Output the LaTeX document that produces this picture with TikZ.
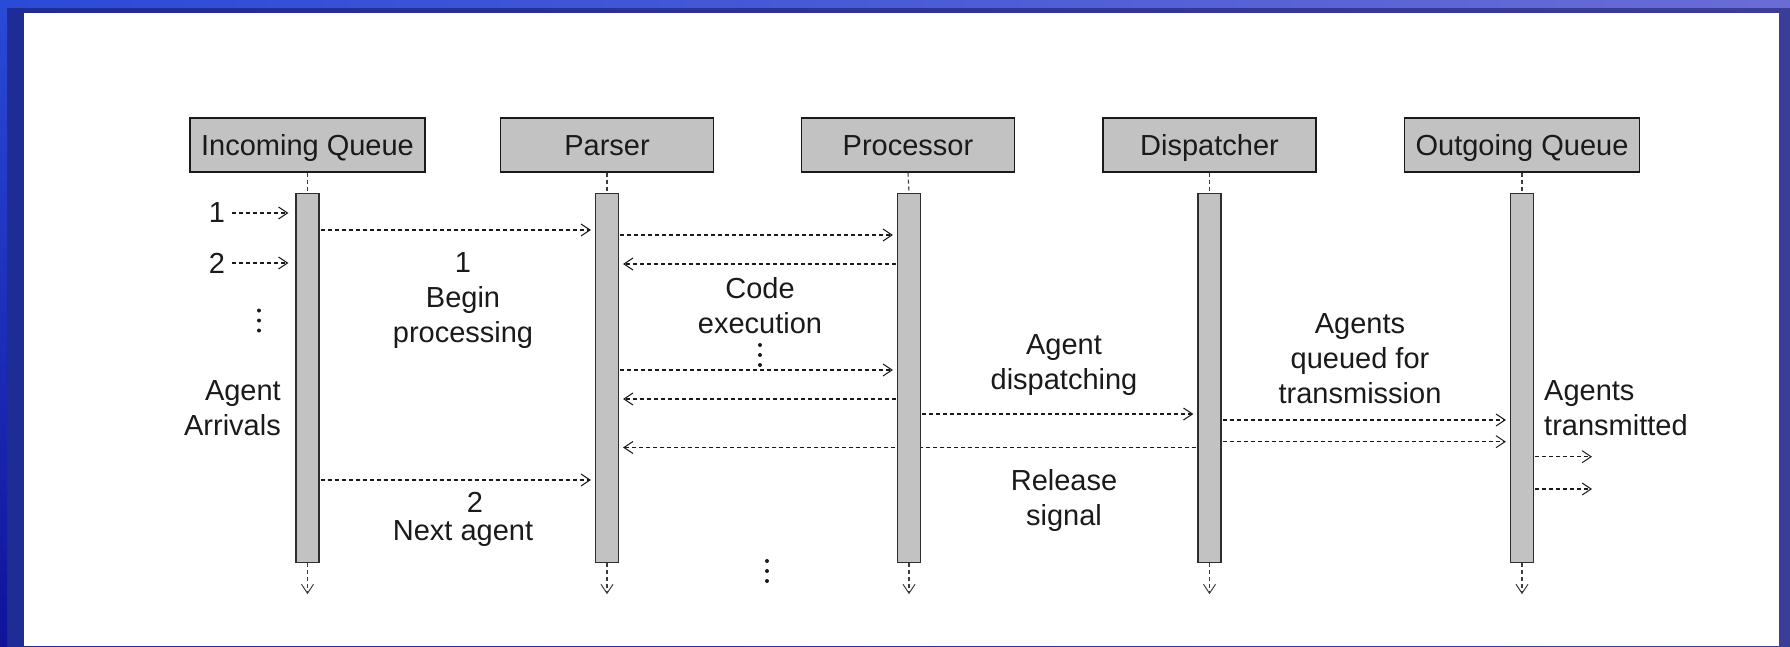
\documentclass[tikz,border=0pt]{standalone}
\usepackage{fontspec}
\setmainfont{Liberation Sans}
\usetikzlibrary{arrows.meta,calc}

\pgfdeclarelayer{frame}
\pgfdeclarelayer{behind}
\pgfsetlayers{frame,behind,main}

\definecolor{boxgray}{HTML}{C2C2C2}
\definecolor{ink}{HTML}{1A1A1A}
\definecolor{barline}{HTML}{2E2E2E}
\definecolor{edgeA}{HTML}{2A4AD8}
\definecolor{edgeB}{HTML}{7290E6}
\definecolor{edgeC}{HTML}{6A6CD6}
\definecolor{edgeD}{HTML}{10129A}
\definecolor{bandA}{HTML}{1E2C96}
\definecolor{bandB}{HTML}{3A3E98}

\newcommand\lblfont{\fontsize{29}{35}\selectfont}

\tikzset{
  head/.style={draw=ink, fill=boxgray, line width=1.4pt, minimum height=54pt,
    inner sep=0pt, font=\lblfont, text=ink, text height=21pt, text depth=0pt},
  bar/.style={draw=barline, fill=boxgray, line width=1.2pt, minimum width=23pt,
    minimum height=369pt, inner sep=0pt, anchor=north},
  msg/.style={draw=ink, line width=1.1pt, dash pattern=on 4pt off 3pt,
    -{Straight Barb[length=9pt,width=12pt,line width=1pt]},
    shorten <=1pt, shorten >=4pt},
  feed/.style={msg, shorten <=7pt, shorten >=7pt},
  life/.style={draw=ink!85, line width=1.1pt, dash pattern=on 4pt off 3pt},
  lifeend/.style={life, -{Straight Barb[length=9pt,width=12pt,line width=1pt]}},
  lbl/.style={font=\lblfont, text=ink, inner sep=0pt, align=center},
  threedots/.pic={
    \fill[ink] (0,-10) circle (2pt);
    \fill[ink] (0,0) circle (2pt);
    \fill[ink] (0,10) circle (2pt);
  },
}

\begin{document}
\begin{tikzpicture}[x=1pt,y=-1pt]
\useasboundingbox (0,0) rectangle (1790,647);

% slide frame
\begin{pgfonlayer}{frame}
  \shade[left color=edgeA, right color=edgeC] (0,0) rectangle (1790,647);
  \shade[left color=bandA, right color=bandB] (7,8) rectangle (1790,647);
  \shade[left color=edgeA, middle color=edgeB, right color=edgeC] (0,0) rectangle (1790,8);
  \shade[top color=edgeA, bottom color=edgeD] (0,0) rectangle (7,647);
  \fill[white] (23.5,13) rectangle (1778.5,645.5);
\end{pgfonlayer}

% participants
\node[head, minimum width=235pt] (h1) at (307.5,145) {Incoming Queue};
\node[head, minimum width=213pt] (h2) at (607,145) {Parser};
\node[head, minimum width=213pt] (h3) at (908,145) {Processor};
\node[head, minimum width=213pt] (h4) at (1209.5,145) {Dispatcher};
\node[head, minimum width=235pt] (h5) at (1522,145) {Outgoing Queue};

% activation bars
\node[bar] (b1) at (307.5,193) {};
\node[bar] (b2) at (607,193) {};
\node[bar] (b3) at (909,193) {};
\node[bar] (b4) at (1209.5,193) {};
\node[bar] (b5) at (1522,193) {};

% lifelines
\foreach \i in {1,...,5}{
  \draw[life] (h\i.south) -- (b\i.north);
  \coordinate (e\i) at ($(b\i.south)+(0,31)$);
  \draw[lifeend] (b\i.south) -- (e\i);
}

% message levels
\coordinate (y1) at (0,230);
\coordinate (y2) at (0,235);
\coordinate (y3) at (0,264);
\coordinate (y4) at (0,370);
\coordinate (y5) at (0,399);
\coordinate (y6) at (0,414);
\coordinate (y7) at (0,420);
\coordinate (y8) at (0,441.7);
\coordinate (y9) at (0,447.5);
\coordinate (y10) at (0,480);

% agent arrivals
\node[lbl] (n1) at (217,213) {1};
\node[lbl] (n2) at (217,263) {2};
\draw[feed] (n1.east) -- (b1.west |- n1);
\draw[feed] (n2.east) -- (b1.west |- n2);
\pic at (259,320.5) {threedots};
\node[lbl, align=right, anchor=east] (arr) at (281,408) {Agent\\Arrivals};

% incoming queue -> parser
\draw[msg] (b1.east |- y1) -- (b2.west |- y1);
\node[lbl] (begin) at (463,301) {1\\Begin\\processing};
\draw[msg] (b1.east |- y10) -- (b2.west |- y10);
\node[lbl] (two) at (475,502) {2};
\node[lbl] (next) at (463,534) {Next agent};

% parser <-> processor
\draw[msg] (b2.east |- y2) -- (b3.west |- y2);
\draw[msg] (b3.west |- y3) -- (b2.east |- y3);
\node[lbl] (code) at (760,306) {Code\\execution};
\pic at (760,355) {threedots};
\draw[msg] (b2.east |- y4) -- (b3.west |- y4);
\draw[msg] (b3.west |- y5) -- (b2.east |- y5);

% processor -> dispatcher
\draw[msg] (b3.east |- y6) -- (b4.west |- y6);
\node[lbl] (disp) at (1064,365) {Agent\\dispatching};

% release signal, passing behind the processor bar
\begin{pgfonlayer}{behind}
  \draw[msg] (b4.west |- y9) -- (b2.east |- y9);
\end{pgfonlayer}
\node[lbl] (rel) at (1064,500) {Release\\signal};

% dispatcher -> outgoing queue
\draw[msg] (b4.east |- y7) -- (b5.west |- y7);
\draw[msg] (b4.east |- y8) -- (b5.west |- y8);
\node[lbl] (queued) at (1360,359) {Agents\\queued for\\transmission};

% transmission
\coordinate (o1) at (1592,456.7);
\coordinate (o2) at (1592,489);
\draw[msg, shorten >=0pt] (b5.east |- o1) -- (o1);
\draw[msg, shorten >=0pt] (b5.east |- o2) -- (o2);
\node[lbl, align=left, anchor=west] (sent) at (1544,408) {Agents\\transmitted};

\pic at (767,571) {threedots};
\end{tikzpicture}
\end{document}
